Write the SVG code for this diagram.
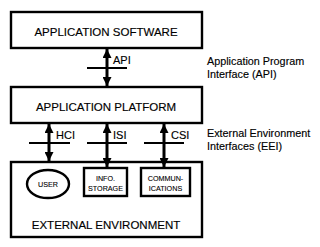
<svg xmlns="http://www.w3.org/2000/svg" width="320" height="247" viewBox="0 0 320 247">
<style>
.box{fill:#fff;stroke:#000;stroke-width:2.4}
.sm{fill:#fff;stroke:#000;stroke-width:2.4}
.big{font-family:"Liberation Sans",Arial,sans-serif;font-size:11.5px;text-anchor:middle;fill:#000;stroke:#000;stroke-width:0.15}
.lbl{font-family:"Liberation Sans",Arial,sans-serif;font-size:11px;fill:#000;stroke:#000;stroke-width:0.15}
.note{font-family:"Liberation Sans",Arial,sans-serif;font-size:10.8px;fill:#000;stroke:#000;stroke-width:0.15}
.tiny{font-family:"Liberation Sans",Arial,sans-serif;font-size:7.2px;text-anchor:middle;fill:#000;stroke:#000;stroke-width:0.1}
.shaft{stroke:#000;stroke-width:3;fill:none;marker-start:url(#ah);marker-end:url(#ah)}
.bar{stroke:#000;stroke-width:2}
</style>
<defs>
<marker id="ah" viewBox="0 0 10 10" refX="10" refY="5" markerWidth="10" markerHeight="9" markerUnits="userSpaceOnUse" orient="auto-start-reverse">
<path d="M0,0 L10,5 L0,10 z" fill="#000"/>
</marker>
</defs>
<rect width="320" height="247" fill="#fff"/>
<g id="app-software">
<rect class="box" x="11" y="12" width="191" height="36"/>
<text class="big" x="106" y="36">APPLICATION SOFTWARE</text>
</g>
<g id="app-platform">
<rect class="box" x="11" y="87" width="191" height="36"/>
<text class="big" x="106" y="111">APPLICATION PLATFORM</text>
</g>
<g id="external-environment">
<rect class="box" x="11" y="162" width="191" height="75"/>
<text class="big" x="106" y="229">EXTERNAL ENVIRONMENT</text>
</g>
<g id="user">
<ellipse class="sm" cx="48" cy="184" rx="21" ry="14"/>
<text class="tiny" x="48" y="187">USER</text>
</g>
<g id="info-storage">
<rect class="sm" x="84" y="168" width="43" height="28"/>
<text class="tiny" x="105.5" y="181">INFO.</text>
<text class="tiny" x="105.5" y="191">STORAGE</text>
</g>
<g id="communications">
<rect class="sm" x="141" y="168" width="49" height="28"/>
<text class="tiny" x="165.5" y="181">COMMUN-</text>
<text class="tiny" x="165.5" y="191">ICATIONS</text>
</g>
<g id="connectors">
<line class="shaft" x1="107" y1="49" x2="107" y2="86"/>
<line class="bar" x1="87" y1="68" x2="127" y2="68"/>
<text class="lbl" x="113" y="64">API</text>
<line class="shaft" x1="49" y1="124" x2="49" y2="161"/>
<line class="bar" x1="29" y1="143" x2="70" y2="143"/>
<text class="lbl" x="56" y="139">HCI</text>
<line class="shaft" x1="107" y1="124" x2="107" y2="167"/>
<line class="bar" x1="87" y1="143" x2="127" y2="143"/>
<text class="lbl" x="113" y="139">ISI</text>
<line class="shaft" x1="164" y1="124" x2="164" y2="167"/>
<line class="bar" x1="144" y1="143" x2="184" y2="143"/>
<text class="lbl" x="171" y="139">CSI</text>
</g>
<g id="notes">
<text class="note" x="207" y="65">Application Program</text>
<text class="note" x="207" y="78">Interface (API)</text>
<text class="note" x="207" y="137">External Environment</text>
<text class="note" x="207" y="150">Interfaces (EEI)</text>
</g>
</svg>
